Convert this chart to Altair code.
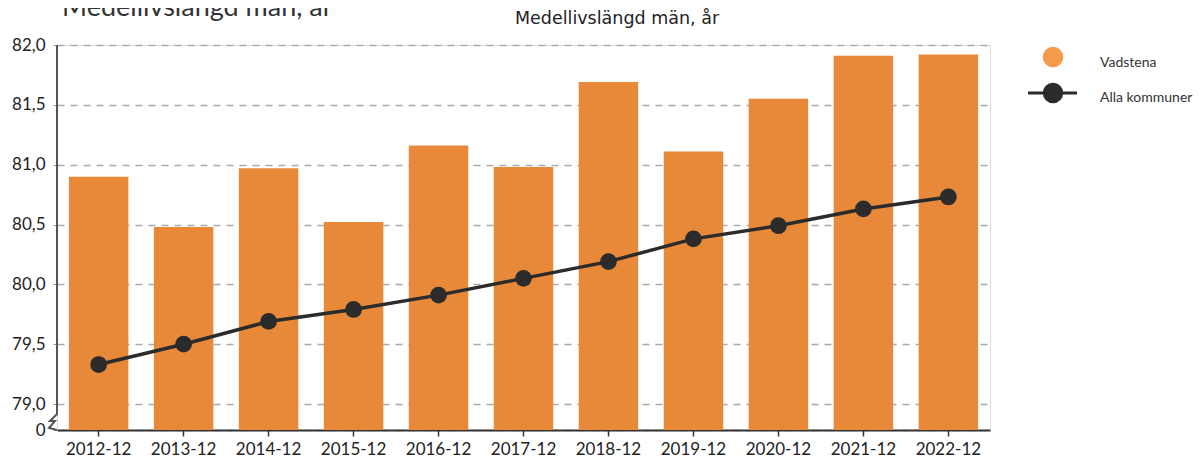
import altair as alt
import pandas as pd

periods = ["2012-12", "2013-12", "2014-12", "2015-12", "2016-12", "2017-12",
           "2018-12", "2019-12", "2020-12", "2021-12", "2022-12"]
vadstena = [80.90, 80.48, 80.97, 80.52, 81.16, 80.98, 81.69, 81.11, 81.55, 81.91, 81.92]
alla = [79.33, 79.50, 79.69, 79.79, 79.91, 80.05, 80.19, 80.38, 80.49, 80.63, 80.73]
y_ticks = [79.0, 79.5, 80.0, 80.5, 81.0, 81.5, 82.0]
title_text = "Medellivslängd män, år"
legend_labels = ["Vadstena", "Alla kommuner"]

YMIN = 78.783  # axis break: shown as "0"
YMAX = 82.0

W, H = 933, 385

df = pd.DataFrame({"period": periods, "vadstena": vadstena, "alla": alla})

xenc = alt.X("period:N", sort=periods, title=None,
             scale=alt.Scale(paddingInner=0.3, paddingOuter=0.14),
             axis=alt.Axis(labelAngle=0, labelFont="Lato", labelFontSize=17,
                           labelColor="#222", domainColor="#333", domainWidth=2,
                           tickColor="#333", tickSize=6, tickWidth=1.5,
                           labelPadding=5, grid=False))
yscale = alt.Scale(domain=[YMIN, YMAX], zero=False, nice=False)

bars = alt.Chart(df).mark_bar(color="#E8893A").encode(
    x=xenc,
    y=alt.Y("vadstena:Q", scale=yscale, title=None,
            axis=alt.Axis(values=[YMIN] + y_ticks,
                          labelExpr="datum.value < 78.9 ? '0' : replace(format(datum.value, '.1f'), '.', ',')",
                          labelFont="Lato", labelFontSize=17, labelColor="#222",
                          domain=False, tickColor="#999", tickSize=4, labelPadding=8,
                          grid=True, gridColor="#aaa", gridDash=[7, 6], gridWidth=1.5)),
    y2=alt.datum(YMIN),
)

line = alt.Chart(df).mark_line(color="#2b2b2b", strokeWidth=3.5).encode(
    x=alt.X("period:N", sort=periods),
    y=alt.Y("alla:Q", scale=yscale),
)
pts = alt.Chart(df).mark_circle(color="#2b2b2b", opacity=1, size=280).encode(
    x=alt.X("period:N", sort=periods),
    y=alt.Y("alla:Q", scale=yscale),
)

# y-axis line with break symbol (decoration, pixel space)
brk = pd.DataFrame({"px": [0, 0, -7, -2, -8, 0], "py": [0, 369, 376, 376, 383, 385], "o": range(6)})
axis_line = alt.Chart(brk).mark_line(color="#555", strokeWidth=2).encode(
    x=alt.X("px:Q", scale=None), y=alt.Y("py:Q", scale=None), order="o:Q")

# titles
t1 = alt.Chart(pd.DataFrame({"t": [title_text]})).mark_text(
    font="Lato", fontSize=27, color="#333", align="left", baseline="alphabetic"
).encode(text="t:N", x=alt.value(5), y=alt.value(-29))
t2 = alt.Chart(pd.DataFrame({"t": [title_text]})).mark_text(
    font="DejaVu Sans", fontSize=17.5, color="#222", align="center", baseline="alphabetic"
).encode(text="t:N", x=alt.value(560), y=alt.value(-21))

# legend
lg_c1 = alt.Chart(pd.DataFrame({"a": [1]})).mark_circle(color="#F5994A", opacity=1, size=420).encode(
    x=alt.value(996), y=alt.value(12))
lg_t1 = alt.Chart(pd.DataFrame({"t": [legend_labels[0]]})).mark_text(
    font="Lato", fontSize=14, color="#333", align="left", baseline="middle"
).encode(text="t:N", x=alt.value(1043), y=alt.value(18))
lg_l2 = alt.Chart(pd.DataFrame({"a": [1]})).mark_rule(color="#2b2b2b", strokeWidth=3).encode(
    x=alt.value(971), x2=alt.value(1020), y=alt.value(48))
lg_c2 = alt.Chart(pd.DataFrame({"a": [1]})).mark_circle(color="#2b2b2b", opacity=1, size=420).encode(
    x=alt.value(996), y=alt.value(48))
lg_t2 = alt.Chart(pd.DataFrame({"t": [legend_labels[1]]})).mark_text(
    font="Lato", fontSize=14, color="#333", align="left", baseline="middle"
).encode(text="t:N", x=alt.value(1043), y=alt.value(53))

chart = alt.layer(bars, line, pts, axis_line, t1, t2, lg_c1, lg_t1, lg_l2, lg_c2, lg_t2).properties(
    width=W, height=H,
    autosize=alt.AutoSizeParams(type="none"),
    padding={"left": 49, "top": 37, "right": 203, "bottom": 34},
).configure_view(stroke=None).configure(background="white")

chart.save("out.html", embed_options={"renderer": "svg", "actions": False})
